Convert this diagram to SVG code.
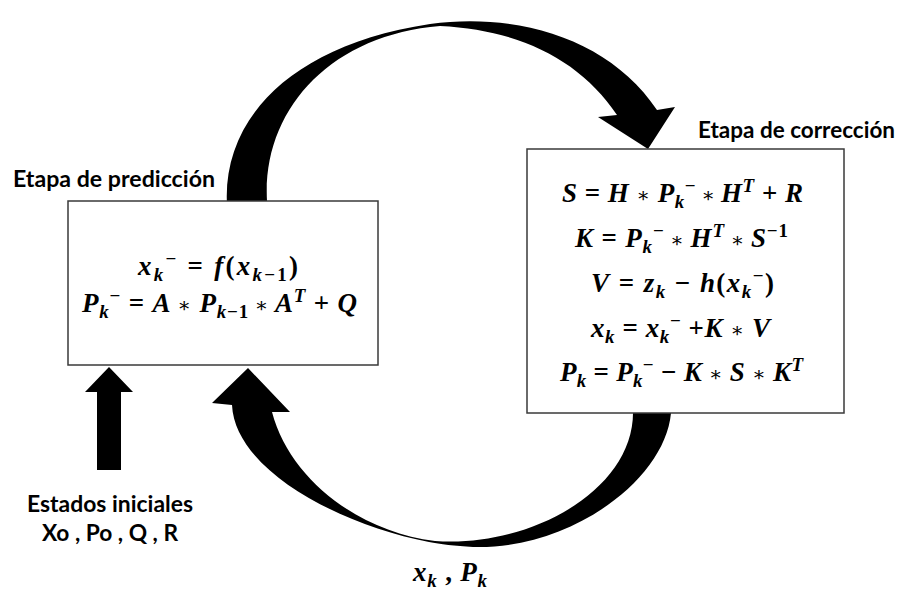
<svg xmlns="http://www.w3.org/2000/svg" width="899" height="590" viewBox="0 0 899 590">
<style>
.box{fill:#fff;stroke:#3a3a3a;stroke-width:1.5}
.lbl{font-family:Lato,"Open Sans","Liberation Sans",sans-serif;font-weight:bold;font-size:23px;fill:#000}
.m{font-family:"Liberation Serif","DejaVu Serif",serif;font-weight:bold;font-style:italic;font-size:27px;fill:#000}
.u{font-style:normal}
.s{font-size:19px}
.a{font-style:normal;font-weight:normal;font-size:20px}
.arr{fill:#000;stroke:none}
</style>
<rect width="899" height="590" fill="#fff"/>
<g id="connectors">
<path class="arr" d="M 227,205 C 222,120 290,45 430,24 C 520,12 610,40 657,110 L 675,107 L 648,149 L 598,117 L 617,115 C 580,60 520,30 440,26 C 330,35 262,110 267,201 Z"/>
<path class="arr" d="M 671,413 C 665,480 570,550 473,547 C 455,546 440,544 429,542 C 340,525 235,470 232,405 L 212,403 L 248,368 L 290,412 L 272,412 C 290,480 360,532 435,541 C 530,548 635,490 633,410 Z"/>
<path class="arr" d="M 97,470 L 97,392 L 85,392 L 109,367 L 133,392 L 121,392 L 121,470 Z"/>
<text class="m" x="413" y="581" textLength="74" lengthAdjust="spacing">x<tspan class="s" dy="6">k</tspan><tspan class="u" dy="-6"> , </tspan>P<tspan class="s" dy="6">k</tspan></text>
</g>
<g id="prediccion">
<text class="lbl" x="13" y="187" textLength="202" lengthAdjust="spacingAndGlyphs">Etapa de predicción</text>
<rect class="box" x="68" y="201" width="310" height="164"/>
<text class="m" x="138" y="275" textLength="160" lengthAdjust="spacing">x<tspan class="s" dy="6">k</tspan><tspan class="s u" dy="-16">−</tspan><tspan class="u" dy="10"> = </tspan>f<tspan class="u">(</tspan>x<tspan class="s" dy="6">k</tspan><tspan class="s u">−1</tspan><tspan class="u" dy="-6">)</tspan></text>
<text class="m" x="82" y="312" textLength="275" lengthAdjust="spacing">P<tspan class="s" dy="6">k</tspan><tspan class="s u" dy="-16">−</tspan><tspan class="u" dy="10"> = </tspan> A <tspan class="a">∗</tspan> P<tspan class="s" dy="6">k</tspan><tspan class="s u">−1</tspan><tspan class="a" dy="-6"> ∗ </tspan>A<tspan class="s" dy="-10">T</tspan><tspan class="u" dy="10"> + </tspan>Q</text>
</g>
<g id="correccion">
<text class="lbl" x="698" y="138" textLength="197" lengthAdjust="spacingAndGlyphs">Etapa de corrección</text>
<rect class="box" x="527" y="149" width="317" height="264"/>
<text class="m" x="562" y="202" textLength="241" lengthAdjust="spacing">S<tspan class="u"> = </tspan> H <tspan class="a">∗</tspan> P<tspan class="s" dy="6">k</tspan><tspan class="s u" dy="-16">−</tspan><tspan class="a" dy="10"> ∗ </tspan>H<tspan class="s" dy="-10">T</tspan><tspan class="u" dy="10"> + </tspan>R</text>
<text class="m" x="575" y="247" textLength="213" lengthAdjust="spacing">K<tspan class="u"> = </tspan>P<tspan class="s" dy="6">k</tspan><tspan class="s u" dy="-16">−</tspan><tspan class="a" dy="10"> ∗ </tspan>H<tspan class="s" dy="-10">T</tspan><tspan class="a" dy="10"> ∗ </tspan>S<tspan class="s u" dy="-10">−1</tspan></text>
<text class="m" x="591" y="292" textLength="183" lengthAdjust="spacing">V<tspan class="u"> = </tspan>z<tspan class="s" dy="6">k</tspan><tspan class="u" dy="-6"> − </tspan> h<tspan class="u">(</tspan>x<tspan class="s" dy="6">k</tspan><tspan class="s u" dy="-16">−</tspan><tspan class="u" dy="10">)</tspan></text>
<text class="m" x="591" y="337" textLength="179" lengthAdjust="spacing">x<tspan class="s" dy="6">k</tspan><tspan class="u" dy="-6"> = </tspan>x<tspan class="s" dy="6">k</tspan><tspan class="s u" dy="-16">−</tspan><tspan class="u" dy="10"> +</tspan>K <tspan class="a">∗</tspan> V</text>
<text class="m" x="560" y="381" textLength="243" lengthAdjust="spacing">P<tspan class="s" dy="6">k</tspan><tspan class="u" dy="-6"> = </tspan>P<tspan class="s" dy="6">k</tspan><tspan class="s u" dy="-16">−</tspan><tspan class="u" dy="10"> − </tspan>K <tspan class="a">∗</tspan> S <tspan class="a">∗</tspan> K<tspan class="s" dy="-10">T</tspan></text>
</g>
<g id="estados">
<text class="lbl" x="27" y="512" textLength="166" lengthAdjust="spacingAndGlyphs">Estados iniciales</text>
<text class="lbl" x="42" y="541" textLength="136" lengthAdjust="spacingAndGlyphs">Xo , Po , Q , R</text>
</g>
</svg>
